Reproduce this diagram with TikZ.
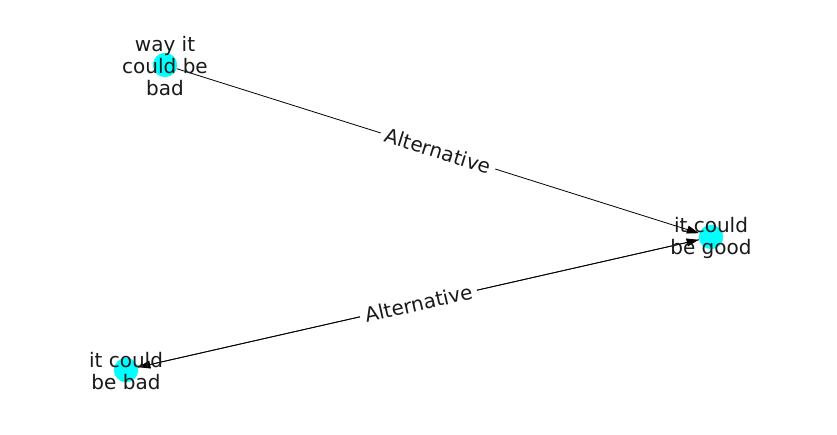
\documentclass[tikz,border=0pt]{standalone}
\usepackage{fontspec}
\setmainfont{DejaVu Sans}
\usetikzlibrary{arrows.meta}
\definecolor{nodecyan}{RGB}{0,255,255}
\begin{document}
\begin{tikzpicture}[x=1pt,y=-1pt,
  vertex/.style={circle,fill=nodecyan,draw=none,minimum size=24pt,inner sep=0pt},
  vtext/.style={align=center,font=\fontsize{20}{22}\selectfont,text=black!90,inner sep=0pt},
  link/.style={draw=black,line width=0.8pt,-{Triangle[length=12pt,width=8pt]},shorten >=0.5pt},
  elabel/.style={fill=white,inner xsep=5pt,inner ysep=2pt,font=\fontsize{20}{22}\selectfont,text=black!90}]
  \useasboundingbox (0,0) rectangle (837,434);
  % vertices
  \node[vertex] (way) at (165,65) {};
  \node[vertex] (good) at (711,237) {};
  \node[vertex] (bad) at (126,370) {};
  % directed edges
  \draw[link] (way) -- (good)
    node[elabel,midway,sloped] {Alternative};
  \draw[link] (good) -- (bad);
  \draw[link] (bad) -- (good)
    node[elabel,midway,sloped] {Alternative};
  % redraw vertices above the edges
  \fill[nodecyan] (way) circle (12pt);
  \fill[nodecyan] (good) circle (12pt);
  \fill[nodecyan] (bad) circle (12pt);
  % vertex captions
  \node[vtext] (wayt) at (165,66) {way it\\could be\\bad};
  \node[vtext] (goodt) at (711,238) {it could\\be good};
  \node[vtext] (badt) at (126,371) {it could\\be bad};
\end{tikzpicture}
\end{document}
